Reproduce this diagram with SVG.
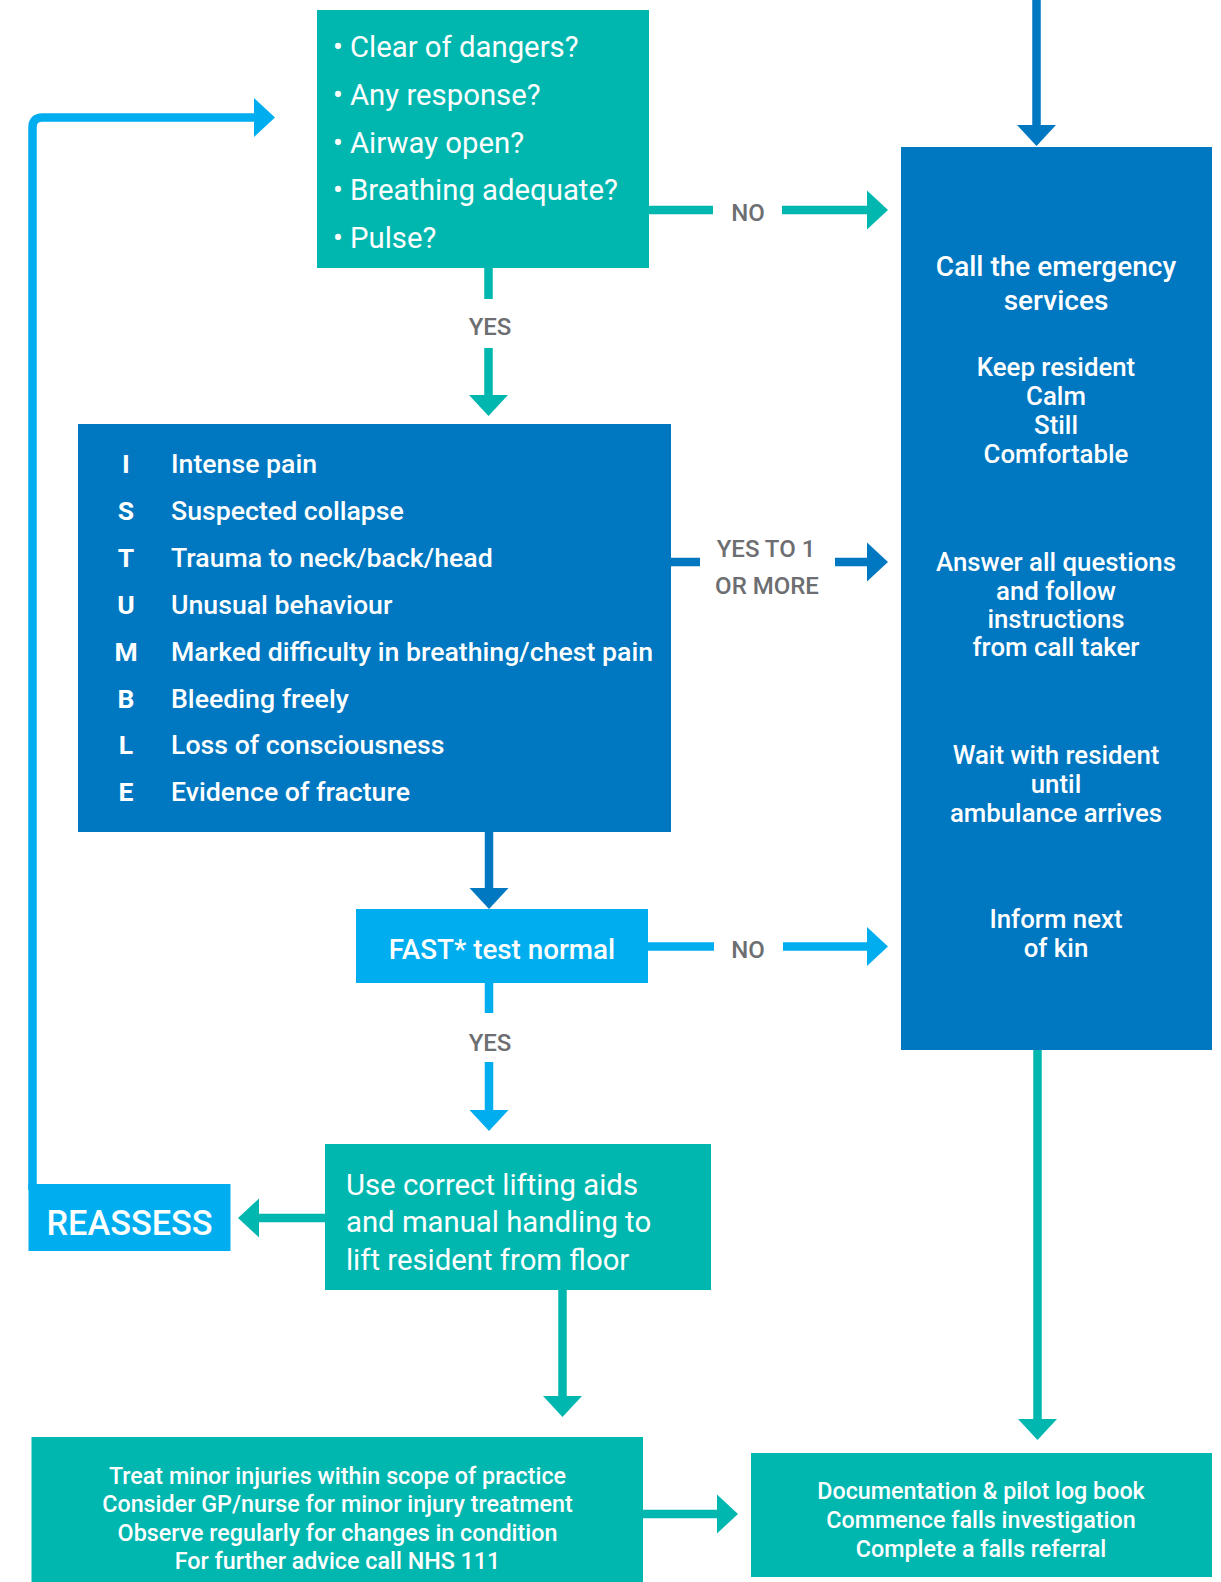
<svg xmlns="http://www.w3.org/2000/svg" width="1221" height="1582" viewBox="0 0 1221 1582">
<defs>
<style>
.teal{fill:#00b7af}
.dblue{fill:#0077c1}
.lblue{fill:#00aeef}
.t{font-family:Roboto,"Liberation Sans",sans-serif;fill:#ffffff}
.reg{font-weight:400}
.med{font-weight:500}
.bold{font-weight:700}
.mid{text-anchor:middle}
.lbl{font-family:Roboto,"Liberation Sans",sans-serif;font-weight:500;font-size:24px;fill:#6d6e71;text-anchor:middle}
.c{fill:none;stroke-width:8.5;stroke-linecap:butt}
.ct{stroke:#00b7af}
.cd{stroke:#0077c1}
.cl{stroke:#00aeef}
</style>
<marker id="ah-t" markerUnits="userSpaceOnUse" markerWidth="22" markerHeight="40" refX="2" refY="20" orient="auto"><path d="M0,0.5 L21,20 L0,39.5 Z" fill="#00b7af"/></marker>
<marker id="ah-d" markerUnits="userSpaceOnUse" markerWidth="22" markerHeight="40" refX="2" refY="20" orient="auto"><path d="M0,0.5 L21,20 L0,39.5 Z" fill="#0077c1"/></marker>
<marker id="ah-l" markerUnits="userSpaceOnUse" markerWidth="22" markerHeight="40" refX="2" refY="20" orient="auto"><path d="M0,0.5 L21,20 L0,39.5 Z" fill="#00aeef"/></marker>
</defs>
<rect width="1221" height="1582" fill="#ffffff"/>

<g id="connectors">
<path class="c cd" d="M1036.5,0 V127" marker-end="url(#ah-d)"/>
<path class="c ct" d="M649,210 H713"/>
<path class="c ct" d="M782,210 H869" marker-end="url(#ah-t)"/>
<path class="c ct" d="M488.5,268 V299"/>
<path class="c ct" d="M488.5,348 V397" marker-end="url(#ah-t)"/>
<path class="c cd" d="M671,562 H700"/>
<path class="c cd" d="M835,562 H869" marker-end="url(#ah-d)"/>
<path class="c cd" d="M489,832 V890" marker-end="url(#ah-d)"/>
<path class="c cl" d="M648,946.5 H714"/>
<path class="c cl" d="M783,946.5 H869" marker-end="url(#ah-l)"/>
<path class="c cl" d="M489,983 V1013"/>
<path class="c cl" d="M489,1062 V1112" marker-end="url(#ah-l)"/>
<path class="c ct" d="M325,1218 H257" marker-end="url(#ah-t)"/>
<path class="c cl" d="M32.5,1190 V127.5 Q32.5,117.5 42.5,117.5 H256" marker-end="url(#ah-l)"/>
<path class="c ct" d="M562.5,1290 V1398" marker-end="url(#ah-t)"/>
<path class="c ct" d="M1037.5,1050 V1421" marker-end="url(#ah-t)"/>
<path class="c ct" d="M643,1514 H719" marker-end="url(#ah-t)"/>
<text class="lbl" x="748" y="221">NO</text>
<text class="lbl" x="490" y="335">YES</text>
<text class="lbl" x="766" y="557">YES TO 1</text>
<text class="lbl" x="767" y="594">OR MORE</text>
<text class="lbl" x="748" y="958">NO</text>
<text class="lbl" x="490" y="1051">YES</text>
</g>

<g id="checks">
<rect class="teal" x="317" y="10" width="332" height="258"/>
<g class="t reg" font-size="29.3">
<text x="338" y="56.5" class="mid">•</text><text x="350" y="56.5">Clear of dangers?</text>
<text x="338" y="104.5" class="mid">•</text><text x="350" y="104.5">Any response?</text>
<text x="338" y="152.5" class="mid">•</text><text x="350" y="152.5">Airway open?</text>
<text x="338" y="200" class="mid">•</text><text x="350" y="200">Breathing adequate?</text>
<text x="338" y="248" class="mid">•</text><text x="350" y="248">Pulse?</text>
</g>
</g>

<g id="istumble">
<rect class="dblue" x="78" y="424" width="593" height="408"/>
<g class="t bold mid" font-size="26.5">
<text x="126" y="473">I</text>
<text x="126" y="520">S</text>
<text x="126" y="567">T</text>
<text x="126" y="613.5">U</text>
<text x="126" y="660.5">M</text>
<text x="126" y="707.5">B</text>
<text x="126" y="754">L</text>
<text x="126" y="801">E</text>
</g>
<g class="t med" font-size="26.7">
<text x="171" y="473">Intense pain</text>
<text x="171" y="520">Suspected collapse</text>
<text x="171" y="567">Trauma to neck/back/head</text>
<text x="171" y="613.5">Unusual behaviour</text>
<text x="171" y="660.5">Marked difficulty in breathing/chest pain</text>
<text x="171" y="707.5">Bleeding freely</text>
<text x="171" y="754">Loss of consciousness</text>
<text x="171" y="801">Evidence of fracture</text>
</g>
</g>

<g id="emergency">
<rect class="dblue" x="901" y="147" width="311" height="903"/>
<g class="t med mid">
<text x="1056" y="276" font-size="28">Call the emergency</text>
<text x="1056" y="310" font-size="28">services</text>
<g font-size="25.8">
<text x="1056" y="376">Keep resident</text>
<text x="1056" y="405">Calm</text>
<text x="1056" y="434">Still</text>
<text x="1056" y="463">Comfortable</text>
<text x="1056" y="571">Answer all questions</text>
<text x="1056" y="600">and follow</text>
<text x="1056" y="628">instructions</text>
<text x="1056" y="656">from call taker</text>
<text x="1056" y="764">Wait with resident</text>
<text x="1056" y="793">until</text>
<text x="1056" y="822">ambulance arrives</text>
<text x="1056" y="928">Inform next</text>
<text x="1056" y="957">of kin</text>
</g>
</g>
</g>

<g id="fast">
<rect class="lblue" x="356" y="909" width="292" height="74"/>
<text class="t med mid" x="502" y="959" font-size="27.8">FAST* test normal</text>
</g>

<g id="lift">
<rect class="teal" x="325" y="1144" width="386" height="146"/>
<g class="t reg" font-size="29.3">
<text x="346" y="1194.5">Use correct lifting aids</text>
<text x="346" y="1232">and manual handling to</text>
<text x="346" y="1269.5">lift resident from floor</text>
</g>
</g>

<g id="reassess">
<rect class="lblue" x="28.5" y="1184" width="202" height="67"/>
<text class="t med mid" x="129.5" y="1235" font-size="34.3">REASSESS</text>
</g>

<g id="treat">
<rect class="teal" x="31.5" y="1437" width="611.5" height="145"/>
<g class="t med mid" font-size="23.3">
<text x="337.5" y="1483.5">Treat minor injuries within scope of practice</text>
<text x="337.5" y="1512">Consider GP/nurse for minor injury treatment</text>
<text x="337.5" y="1540.5">Observe regularly for changes in condition</text>
<text x="337.5" y="1569">For further advice call NHS 111</text>
</g>
</g>

<g id="documentation">
<rect class="teal" x="751" y="1453" width="461" height="124"/>
<g class="t med mid" font-size="23.3">
<text x="981" y="1499">Documentation &amp; pilot log book</text>
<text x="981" y="1527.5">Commence falls investigation</text>
<text x="981" y="1556.5">Complete a falls referral</text>
</g>
</g>
</svg>
